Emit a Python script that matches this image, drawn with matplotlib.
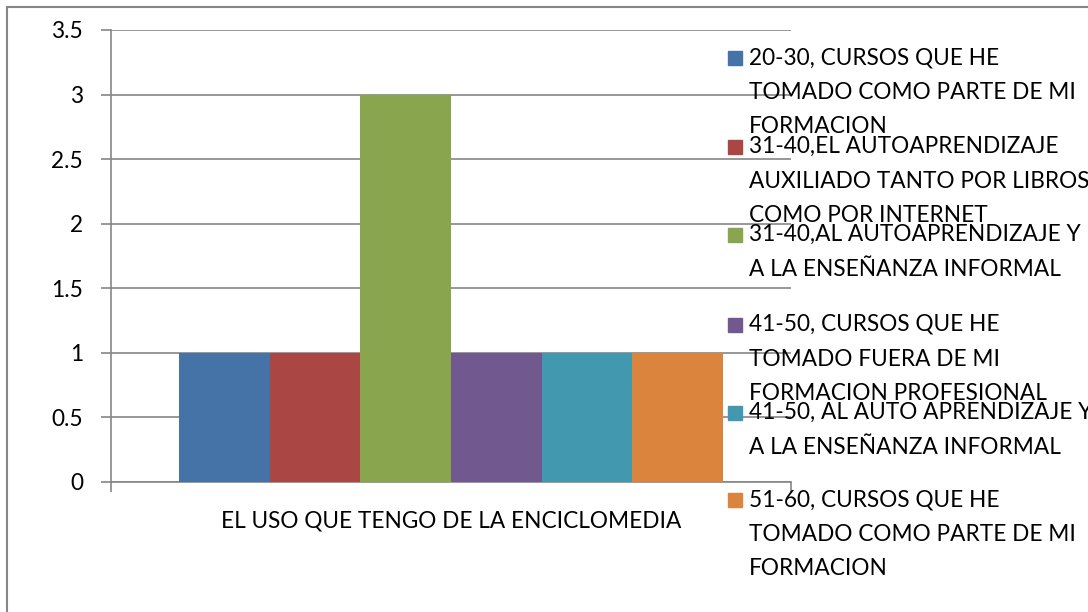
import matplotlib
matplotlib.use("Agg")
from matplotlib import pyplot as plt
from matplotlib.patches import Rectangle

plt.rcParams['font.family'] = ['Lato', 'DejaVu Sans']

category = "EL USO QUE TENGO DE LA ENCICLOMEDIA"
series_labels = [
    "20-30, CURSOS QUE HE\nTOMADO COMO PARTE DE MI\nFORMACION",
    "31-40,EL AUTOAPRENDIZAJE\nAUXILIADO TANTO POR LIBROS\nCOMO POR INTERNET",
    "31-40,AL AUTOAPRENDIZAJE Y\nA LA ENSEÑANZA INFORMAL",
    "41-50, CURSOS QUE HE\nTOMADO FUERA DE MI\nFORMACION PROFESIONAL",
    "41-50, AL AUTO APRENDIZAJE Y\nA LA ENSEÑANZA INFORMAL",
    "51-60, CURSOS QUE HE\nTOMADO COMO PARTE DE MI\nFORMACION",
]
values = [1, 1, 3, 1, 1, 1]
colors = ["#4572A7", "#AA4643", "#89A54E", "#71588F", "#4198AF", "#DB843D"]
yticks = [0, 0.5, 1, 1.5, 2, 2.5, 3, 3.5]
ytick_labels = ["0", "0.5", "1", "1.5", "2", "2.5", "3", "3.5"]

W, H = 1088, 612
fs = 16.3
fig = plt.figure(figsize=(W / 100, H / 100), dpi=100)
ax = fig.add_axes([111 / W, 1 - 482 / H, 680 / W, 452 / H])

grey = "#868686"
n = len(values)
bw = 0.8 / n
for i, (v, c) in enumerate(zip(values, colors)):
    ax.bar(0.1 + bw * i, v, width=bw, align="edge", color=c, zorder=3)

ax.set_xlim(0, 1)
ax.set_ylim(0, 3.5)
ax.set_yticks(yticks)
ax.set_yticklabels(ytick_labels)
ax.set_xticks([0, 1])
ax.set_xticklabels(["", ""])
ax.text(0.5, -0.087, category, transform=ax.transAxes, ha="center", va="center", fontsize=fs)
ax.grid(axis="y", color=grey, linewidth=1.2, zorder=0)
for s in ["top", "right"]:
    ax.spines[s].set_visible(False)
for s in ["left", "bottom"]:
    ax.spines[s].set_color(grey)
    ax.spines[s].set_linewidth(1.2)
ax.tick_params(axis="both", colors=grey, length=7, width=1.2, labelcolor="black", labelsize=fs)
ax.tick_params(axis="y", pad=13)

# outer chart border
fig.patches.append(Rectangle((7 / W, -0.1), 1.2, 1 - 7 / H + 0.1, transform=fig.transFigure,
                             fill=False, edgecolor=grey, linewidth=1.5, zorder=0))

# legend, entries equally spaced like Excel
entry_y = [58, 147, 235, 325, 413, 500]
for lab, c, y in zip(series_labels, colors, entry_y):
    fig.patches.append(Rectangle((728 / W, 1 - (y + 7) / H), 14 / W, 14 / H,
                                 transform=fig.transFigure, color=c, zorder=5))
    fig.text(749 / W, 1 - (y - 11) / H, lab, ha="left", va="top", fontsize=fs,
             linespacing=1.8, zorder=6)

fig.savefig("out.png", dpi=100)
